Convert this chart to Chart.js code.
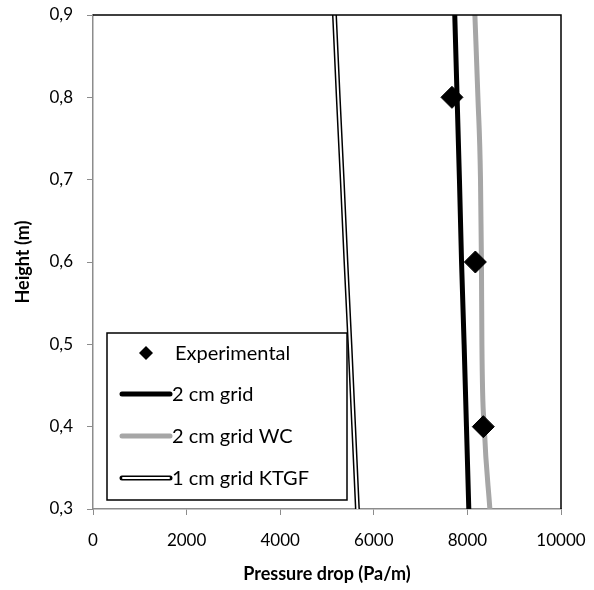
<!DOCTYPE html>
<html>
<head>
<meta charset="utf-8">
<script src="https://cdn.jsdelivr.net/npm/chart.js@4/dist/chart.umd.min.js"></script>
<style>
  html, body { margin: 0; padding: 0; background: #fff; }
  #wrap { width: 594px; height: 590px; }
</style>
</head>
<body>
<div id="wrap"><canvas id="pressureChart" width="594" height="590"></canvas></div>
<script>
// values
const expHeights = [0.8, 0.6, 0.4];
const expDrop = [7670, 8170, 8340];

const simHeights = [0.3, 0.4, 0.5, 0.6, 0.7, 0.8, 0.9];
const grid2cm = [8030, 7980, 7930, 7875, 7830, 7780, 7730];
const grid2cmWC = [8480, 8360, 8310, 8300, 8280, 8225, 8160];
const grid1cmKTGF = [5650, 5570, 5490, 5405, 5325, 5240, 5160];

const xTicks = [0, 2000, 4000, 6000, 8000, 10000];
const yTicks = [0.3, 0.4, 0.5, 0.6, 0.7, 0.8, 0.9];

const legendNames = ['Experimental', '2 cm grid', '2 cm grid WC', '1 cm grid KTGF'];

const FONT = 'Lato, "Open Sans", sans-serif';

function toPoints(xs, ys) {
    return xs.map((x, i) => ({ x: x, y: ys[i] }));
}

// frame (top + right) and the legend box in the lower left corner
const framePlugin = {
    id: 'frame',
    afterDraw(chart) {
        const ctx = chart.ctx;
        const a = chart.chartArea;
        ctx.save();
        ctx.strokeStyle = '#000';
        ctx.lineWidth = 1.5;
        ctx.beginPath();
        ctx.moveTo(a.left, a.top);
        ctx.lineTo(a.right, a.top);
        ctx.lineTo(a.right, a.bottom);
        ctx.stroke();

        // legend
        const bx = 107, by = 333, bw = 240, bh = 167;
        ctx.fillStyle = '#fff';
        ctx.fillRect(bx, by, bw, bh);
        ctx.lineWidth = 1.5;
        ctx.strokeStyle = '#000';
        ctx.strokeRect(bx, by, bw, bh);

        const rowY = [353, 394, 436, 478];
        const x0 = 122, x1 = 170;
        ctx.font = '20px ' + FONT;
        ctx.textBaseline = 'middle';
        ctx.textAlign = 'left';

        // diamond
        ctx.fillStyle = '#000';
        ctx.beginPath();
        ctx.moveTo(146, rowY[0] - 7);
        ctx.lineTo(153, rowY[0]);
        ctx.lineTo(146, rowY[0] + 7);
        ctx.lineTo(139, rowY[0]);
        ctx.closePath();
        ctx.fill();

        ctx.lineCap = 'round';
        ctx.lineWidth = 5;
        ctx.strokeStyle = '#000';
        ctx.beginPath(); ctx.moveTo(x0, rowY[1]); ctx.lineTo(x1, rowY[1]); ctx.stroke();
        ctx.strokeStyle = '#a6a6a6';
        ctx.beginPath(); ctx.moveTo(x0, rowY[2]); ctx.lineTo(x1, rowY[2]); ctx.stroke();
        ctx.strokeStyle = '#000';
        ctx.beginPath(); ctx.moveTo(x0, rowY[3]); ctx.lineTo(x1, rowY[3]); ctx.stroke();
        ctx.lineWidth = 2;
        ctx.strokeStyle = '#fff';
        ctx.beginPath(); ctx.moveTo(x0 + 1, rowY[3]); ctx.lineTo(x1 - 1, rowY[3]); ctx.stroke();

        ctx.fillStyle = '#000';
        legendNames.forEach((name, i) => {
            ctx.fillText(name, i === 0 ? 175 : 172, rowY[i] + 1);
        });
        ctx.restore();
    }
};

// dataset 0 is painted last (on top)
const ctx = document.getElementById('pressureChart').getContext('2d');
new Chart(ctx, {
    type: 'scatter',
    data: {
        datasets: [
            {
                label: legendNames[0],
                data: toPoints(expDrop, expHeights),
                showLine: false,
                pointStyle: 'rectRot',
                pointRadius: 11,
                backgroundColor: '#000',
                borderColor: '#000'
            },
            {
                label: legendNames[1],
                data: toPoints(grid2cm, simHeights),
                showLine: true,
                borderColor: '#000',
                borderWidth: 5,
                pointRadius: 0
            },
            {
                label: legendNames[2],
                data: toPoints(grid2cmWC, simHeights),
                showLine: true,
                borderColor: '#a6a6a6',
                borderWidth: 5,
                cubicInterpolationMode: 'monotone',
                pointRadius: 0
            },
            {
                label: legendNames[3] + ' inner',
                data: toPoints(grid1cmKTGF, simHeights),
                showLine: true,
                borderColor: '#fff',
                borderWidth: 2,
                pointRadius: 0
            },
            {
                label: legendNames[3],
                data: toPoints(grid1cmKTGF, simHeights),
                showLine: true,
                borderColor: '#000',
                borderWidth: 5,
                pointRadius: 0
            }
        ]
    },
    options: {
        responsive: false,
        animation: false,
        layout: { padding: { top: 15, right: 33, left: 0, bottom: 0 } },
        plugins: {
            legend: { display: false },
            tooltip: { enabled: false }
        },
        scales: {
            x: {
                type: 'linear',
                min: 0,
                max: 10000,
                afterFit: s => { s.height = 81; s.paddingLeft = 0; s.paddingRight = 0; },
                afterBuildTicks: s => { s.ticks = xTicks.map(v => ({ value: v })); },
                grid: { drawOnChartArea: false, drawTicks: true, tickLength: 6, color: '#8c8c8c' },
                border: { color: '#8c8c8c', width: 1.5 },
                ticks: {
                    color: '#000',
                    font: { family: FONT, size: 17 },
                    padding: 15,
                    maxRotation: 0,
                    callback: v => String(v)
                },
                title: {
                    display: true,
                    text: 'Pressure drop (Pa/m)',
                    color: '#000',
                    font: { family: FONT, size: 18, weight: 'bold' },
                    padding: { top: 0, bottom: 5 }
                }
            },
            y: {
                type: 'linear',
                min: 0.3,
                max: 0.9,
                afterFit: s => { s.width = 93; s.paddingTop = 0; s.paddingBottom = 0; },
                afterBuildTicks: s => { s.ticks = yTicks.map(v => ({ value: v })); },
                grid: { drawOnChartArea: false, drawTicks: true, tickLength: 6, color: '#8c8c8c' },
                border: { color: '#8c8c8c', width: 1.5 },
                ticks: {
                    color: '#000',
                    font: { family: FONT, size: 17 },
                    padding: 14,
                    callback: v => v.toFixed(1).replace('.', ',')
                },
                title: {
                    display: true,
                    text: 'Height (m)',
                    color: '#000',
                    font: { family: FONT, size: 18, weight: 'bold' },
                    padding: { top: 12, bottom: 0 }
                }
            }
        }
    },
    plugins: [framePlugin]
});
</script>
</body>
</html>
